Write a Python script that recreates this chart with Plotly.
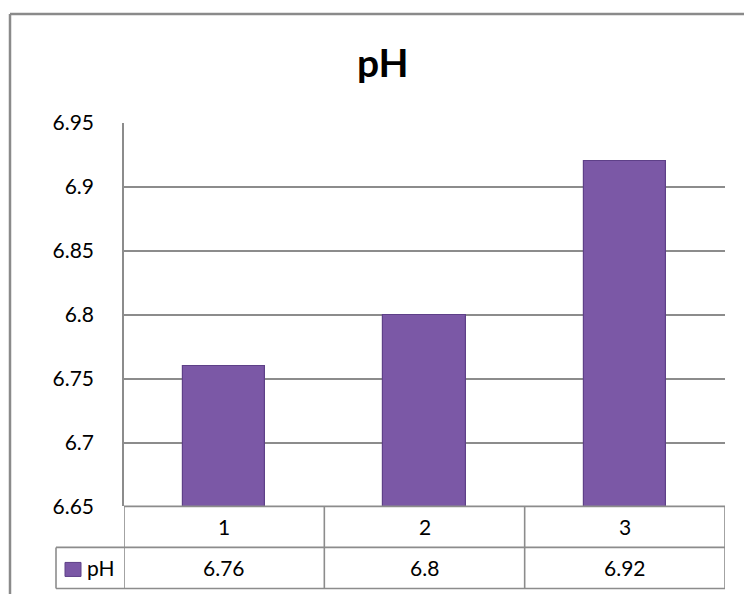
import plotly.graph_objects as go

categories = ["1", "2", "3"]
ph_values = [6.76, 6.8, 6.92]
value_labels = ["6.76", "6.8", "6.92"]
tick_vals = [6.65, 6.7, 6.75, 6.8, 6.85, 6.9, 6.95]
tick_text = ["6.65", "6.7", "6.75", "6.8", "6.85", "6.9", "6.95"]
series_name = "pH"

W, HF = 744, 606
OFF, S = 13.0, 0.958
def px(x):
    return x / W
def py(y):
    page_y = (y - OFF) / S
    return 1 - page_y / HF

FONT = "Lato, 'Open Sans', sans-serif"
GRID = "#8c8c8c"
BAR = "#7b58a6"
FS = 21

xi = list(range(len(categories)))

fig = go.Figure()
fig.add_trace(go.Bar(
    x=xi, y=ph_values, width=0.41,
    marker=dict(color=BAR, line=dict(color="#5e4088", width=1.2)),
    showlegend=False, hoverinfo="skip",
))

fig.update_layout(
    width=W, height=HF,
    margin=dict(l=0, r=0, t=0, b=0),
    paper_bgcolor="white", plot_bgcolor="white",
    font=dict(family=FONT, color="black"),
    xaxis=dict(domain=[px(124), px(725)], range=[-0.5, len(categories) - 0.5],
               showticklabels=False, showgrid=False, zeroline=False, showline=False),
    yaxis=dict(domain=[py(505), py(122)], range=[6.65, 6.95],
               tickvals=tick_vals, ticktext=tick_text,
               tickfont=dict(size=FS, color="black", family=FONT),
               showgrid=True, gridcolor=GRID, gridwidth=1.6,
               showline=True, linecolor=GRID, linewidth=1.6,
               zeroline=False, ticklabelstandoff=24),
    bargap=0,
)

top_y = min(1.0, py(10))
shapes = []
shapes.append(dict(type="line", xref="paper", yref="paper", x0=px(10), x1=px(10), y0=0, y1=top_y,
                   line=dict(color="#8a8a8a", width=2.5)))
shapes.append(dict(type="line", xref="paper", yref="paper", x0=px(10), x1=1, y0=top_y, y1=top_y,
                   line=dict(color="#8a8a8a", width=2.5)))
row_top, row_mid, row_bot = py(505), py(546), py(587)
for b in [i - 0.5 for i in xi] + [len(categories) - 0.5]:
    shapes.append(dict(type="line", xref="x", yref="paper", x0=b, x1=b, y0=row_bot, y1=row_top,
                       line=dict(color=GRID, width=1.6)))
shapes.append(dict(type="line", xref="paper", yref="paper", x0=px(124), x1=px(725), y0=row_top, y1=row_top,
                   line=dict(color=GRID, width=1.6)))
for yy in (row_mid, row_bot):
    shapes.append(dict(type="line", xref="paper", yref="paper", x0=px(56), x1=px(725), y0=yy, y1=yy,
                       line=dict(color=GRID, width=1.6)))
shapes.append(dict(type="line", xref="paper", yref="paper", x0=px(56), x1=px(56), y0=row_bot, y1=row_mid,
                   line=dict(color=GRID, width=1.6)))
shapes.append(dict(type="rect", xref="paper", yref="paper", x0=px(65), x1=px(81), y0=py(575), y1=py(561),
                   fillcolor=BAR, line=dict(color="#5e4088", width=1)))
fig.update_layout(shapes=shapes)

ann = []
ann.append(dict(text="<b>pH</b>", x=px(383), y=py(61), xref="paper", yref="paper",
                xanchor="center", yanchor="middle",
                showarrow=False, font=dict(size=39, family=FONT, color="black")))
for i, c in enumerate(categories):
    ann.append(dict(text=c, x=i, y=(row_top + row_mid) / 2, xref="x", yref="paper",
                    xanchor="center", yanchor="middle",
                    showarrow=False, font=dict(size=FS, family=FONT, color="black")))
    ann.append(dict(text=value_labels[i], x=i, y=(row_mid + row_bot) / 2, xref="x", yref="paper",
                    xanchor="center", yanchor="middle",
                    showarrow=False, font=dict(size=FS, family=FONT, color="black")))
ann.append(dict(text=series_name, x=px(85), y=(row_mid + row_bot) / 2, xref="paper", yref="paper",
                xanchor="left", yanchor="middle",
                showarrow=False, font=dict(size=FS, family=FONT, color="black")))
fig.update_layout(annotations=ann)

fig.write_html("out.html", config={"displayModeBar": False},
               post_script="document.body.style.margin='0px';")
